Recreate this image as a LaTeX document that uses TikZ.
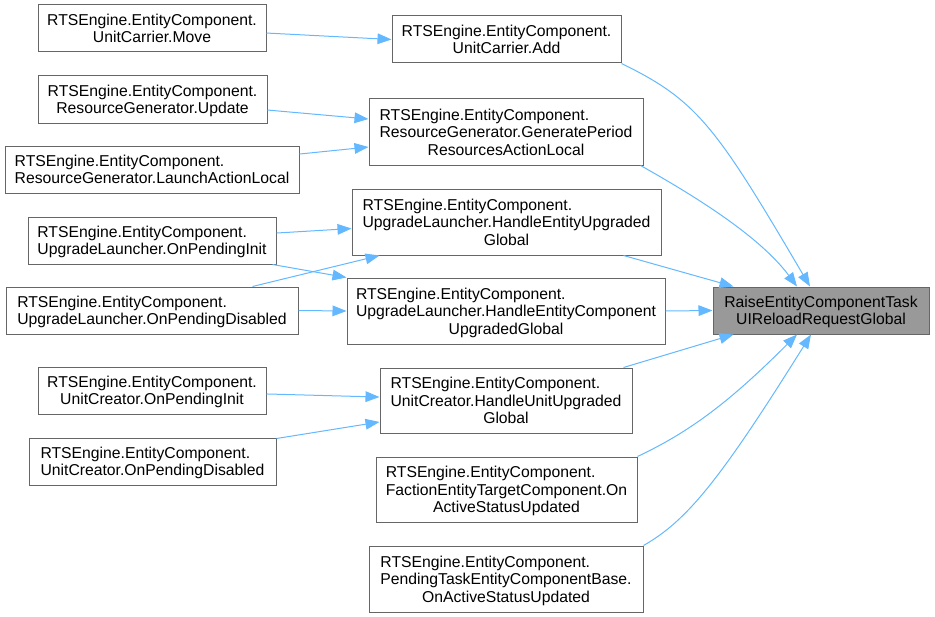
\documentclass[tikz,border=0pt]{standalone}
\usepackage{fontspec}
\setmainfont{Liberation Sans}
\usetikzlibrary{arrows.meta}
\definecolor{edgec}{HTML}{63B8FF}
\definecolor{boxc}{HTML}{666666}
\definecolor{rootc}{HTML}{999999}
\newcommand{\lbltwo}[2]{\raisebox{-1.6pt}[\height][\depth]{\begin{tabular}{@{}c@{}}\multicolumn{1}{@{}l@{}}{#1}\\#2\end{tabular}}}
\newcommand{\lblthree}[3]{\raisebox{-1.6pt}[\height][\depth]{\begin{tabular}{@{}c@{}}\multicolumn{1}{@{}l@{}}{#1}\\#2\\#3\end{tabular}}}
\begin{document}
\begin{tikzpicture}[x=0.75pt,y=-0.75pt,
  box/.style={draw=boxc, line width=0.75pt, fill=white, inner sep=0pt,
    font=\fontsize{11.8}{13.2}\selectfont},
  rootbox/.style={box, fill=rootc},
  edge/.style={draw=edgec, line width=0.75pt, -{Triangle[length=10.5pt,width=8pt]}}]
\useasboundingbox (0,0) rectangle (935,617);

% left column
\node[box, minimum width=171pt, minimum height=35.25pt] (l1) at (152,28.5)
  {\lbltwo{RTSEngine.EntityComponent.}{UnitCarrier.Move}};
\node[box, minimum width=171.75pt, minimum height=35.25pt] (l2) at (152.5,99.5)
  {\lbltwo{RTSEngine.EntityComponent.}{ResourceGenerator.Update}};
\node[box, minimum width=220.5pt, minimum height=35.25pt] (l3) at (152,169.5)
  {\lbltwo{RTSEngine.EntityComponent.}{ResourceGenerator.LaunchActionLocal}};
\node[box, minimum width=186pt, minimum height=35.25pt] (l4) at (152,240.5)
  {\lbltwo{RTSEngine.EntityComponent.}{UpgradeLauncher.OnPendingInit}};
\node[box, minimum width=219pt, minimum height=35.25pt] (l5) at (152,310.5)
  {\lbltwo{RTSEngine.EntityComponent.}{UpgradeLauncher.OnPendingDisabled}};
\node[box, minimum width=171pt, minimum height=35.25pt] (l6) at (152,390.5)
  {\lbltwo{RTSEngine.EntityComponent.}{UnitCreator.OnPendingInit}};
\node[box, minimum width=185.25pt, minimum height=35.25pt] (l7) at (152.5,461.5)
  {\lbltwo{RTSEngine.EntityComponent.}{UnitCreator.OnPendingDisabled}};

% middle column
\node[box, minimum width=171.75pt, minimum height=35.25pt] (m1) at (506.5,39.5)
  {\lbltwo{RTSEngine.EntityComponent.}{UnitCarrier.Add}};
\node[box, minimum width=205.5pt, minimum height=49.5pt] (m2) at (506,132)
  {\lblthree{RTSEngine.EntityComponent.}{ResourceGenerator.GeneratePeriod}{ResourcesActionLocal}};
\node[box, minimum width=231.75pt, minimum height=49.5pt] (m3) at (506.5,222)
  {\lblthree{RTSEngine.EntityComponent.}{UpgradeLauncher.HandleEntityUpgraded}{Global}};
\node[box, minimum width=238.5pt, minimum height=49.5pt] (m4) at (506,311)
  {\lblthree{RTSEngine.EntityComponent.}{UpgradeLauncher.HandleEntityComponent}{UpgradedGlobal}};
\node[box, minimum width=189pt, minimum height=48.75pt] (m5) at (506,400.5)
  {\lblthree{RTSEngine.EntityComponent.}{UnitCreator.HandleUnitUpgraded}{Global}};
\node[box, minimum width=195.75pt, minimum height=48.75pt] (m6) at (506.5,489.5)
  {\lblthree{RTSEngine.EntityComponent.}{FactionEntityTargetComponent.On}{ActiveStatusUpdated}};
\node[box, minimum width=205.5pt, minimum height=49.5pt] (m7) at (506,579)
  {\lblthree{RTSEngine.EntityComponent.}{PendingTaskEntityComponentBase.}{OnActiveStatusUpdated}};

% root
\node[rootbox, minimum width=162pt, minimum height=35.25pt] (r) at (821,310.5)
  {\lbltwo{RaiseEntityComponentTask}{UIReloadRequestGlobal}};

% left edges
\draw[edge] ([yshift=-3.4pt]l1.east) -- (m1.west);
\draw[edge] ([yshift=-7.9pt]l2.east) -- ([yshift=9.75pt]m2.west);
\draw[edge] ([yshift=11.6pt]l3.east) -- ([yshift=-11.25pt]m2.west);
\draw[edge] ([yshift=5.6pt]l4.east) -- ([yshift=-4.9pt]m3.west);
\draw[edge] ([xshift=-3pt]l4.south east) -- (m4.north west);
\draw[edge] ([xshift=-34.5pt]l5.north east) -- ([xshift=21pt]m3.south west);
\draw[edge] (l5.east) -- (m4.west);
\draw[edge] ([yshift=-2.6pt]l6.east) -- ([yshift=2.6pt]m5.west);
\draw[edge] ([yshift=-0.75pt]l7.north east) -- ([yshift=-16.1pt]m5.west);

% right edges
\draw[edge] (m1.south east) .. controls +(76,37) and +(-94,-160) .. ([xshift=-8.25pt]r.north);
\draw[edge] ([xshift=-2.25pt]m2.south east) .. controls +(75,42) and +(-32,-43) .. ([xshift=-18pt]r.north);
\draw[edge] ([xshift=-28.5pt]m3.south east) -- ([xshift=15.75pt]r.north west);
\draw[edge] (m4.east) -- (r.west);
\draw[edge] ([xshift=-6.75pt]m5.north east) -- ([xshift=15.75pt]r.south west);
\draw[edge] (m6.north east) .. controls +(53,-25) and +(-67,67) .. ([xshift=-18pt]r.south);
\draw[edge] (m7.north east) .. controls +(44,-25) and +(-90,144) .. ([xshift=-7.5pt]r.south);
\end{tikzpicture}
\end{document}
